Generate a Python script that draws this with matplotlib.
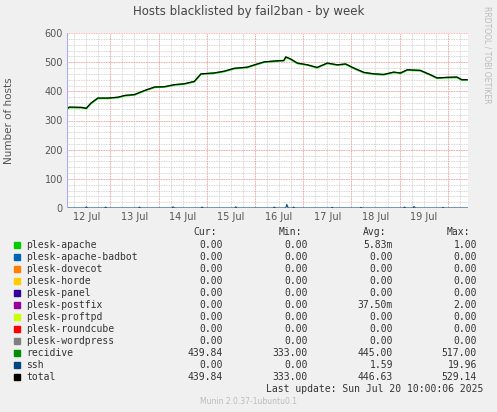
import matplotlib
matplotlib.use("Agg")
import matplotlib.pyplot as plt
import numpy as np

# x in days since 12 Jul 00:00
day_pos = [0.05,0.15,0.40,0.50,0.60,0.74,0.95,1.16,1.30,1.50,1.71,1.92,2.12,2.33,2.53,2.74,2.88,3.15,3.36,3.57,3.84,4.05,4.19,4.40,4.60,4.64,4.74,4.88,5.09,5.29,5.50,5.71,5.88,6.05,6.26,6.47,6.67,6.88,7.02,7.16,7.43,7.64,7.78,7.98,8.19,8.29,8.40]
total = [335,346,345,342,360,377,377,380,386,389,403,415,416,423,426,434,460,463,469,479,483,494,501,504,506,518,511,497,491,482,497,491,494,480,465,460,458,466,463,474,472,457,446,448,449,440,440]
ssh_pos = [0.5,0.9,1.6,2.3,2.9,3.6,4.4,4.66,4.8,5.6,6.2,7.1,7.3,7.9]
ssh_val = [4,3,3,4,3,4,3,12,3,2,2,3,5,2]

names = ["plesk-apache","plesk-apache-badbot","plesk-dovecot","plesk-horde","plesk-panel","plesk-postfix","plesk-proftpd","plesk-roundcube","plesk-wordpress","recidive","ssh","total"]
colors = ["#00CC00","#0066B3","#FF8000","#FFCC00","#330099","#990099","#CCFF00","#FF0000","#808080","#008F00","#00487D","#000000"]
cur = ["0.00"]*9+["439.84","0.00","439.84"]
mins = ["0.00"]*9+["333.00","0.00","333.00"]
avgs = ["5.83m","0.00","0.00","0.00","0.00","37.50m","0.00","0.00","0.00","445.00","1.59","446.63"]
maxs = ["1.00","0.00","0.00","0.00","0.00","2.00","0.00","0.00","0.00","517.00","19.96","529.14"]
day_labels = ["12 Jul","13 Jul","14 Jul","15 Jul","16 Jul","17 Jul","18 Jul","19 Jul"]

W,H = 497,412
fig = plt.figure(figsize=(W/100,H/100), dpi=100, facecolor="#F0F0F0")
ax = fig.add_axes([67/W, (H-208)/H, 401/W, 175/H])
ax.set_facecolor("white")
ax.set_xlim(0.1, 8.42)
ax.set_ylim(0, 600)
for d in np.arange(0.25, 8.42, 0.25):
    ax.axvline(d, color="#c8c8c8", lw=0.6, ls=(0,(1,1)), zorder=0)
for v in range(20, 600, 20):
    ax.axhline(v, color="#c8c8c8", lw=0.6, ls=(0,(1,1)), zorder=0)
for d in range(1, 9):
    ax.axvline(d, color="#ff9999", lw=0.6, ls=(0,(1,1)), zorder=0)
for v in range(100, 700, 100):
    ax.axhline(v, color="#ff9999", lw=0.6, ls=(0,(1,1)), zorder=0)

sshx = [0.1]; sshy=[0]
for p,v in zip(ssh_pos, ssh_val):
    sshx += [p-0.02,p,p+0.03]; sshy += [0,v,0]
sshx.append(8.42); sshy.append(0)
ax.plot(sshx, sshy, color="#00487D", lw=0.8)
ax.plot(day_pos, [t-1 for t in total], color="#00CC00", lw=1.3)
ax.plot(day_pos, total, color="#000000", lw=0.8)

ax.set_xticks([d+0.5 for d in range(8)])
ax.set_xticklabels(day_labels)
ax.set_yticks(range(0,700,100))
ax.tick_params(length=0, labelsize=7, colors="#555555", pad=3)
for s in ax.spines.values(): s.set_visible(False)
ax.axhline(0, color="#aaaaee", lw=0.8)
ax.axvline(0.1, color="#aaaaee", lw=0.8)
ax.set_ylabel("Number of hosts", fontsize=7.5, color="#555555", labelpad=22)

fig.text(0.5, 1-12/H, "Hosts blacklisted by fail2ban - by week", ha="center", va="center", fontsize=8.5, color="#444444")
fig.text(487/W, 1-55/H, "RRDTOOL / TOBI OETIKER", rotation=270, ha="center", va="center", fontsize=5.5, color="#bbbbbb")

mono = dict(family="DejaVu Sans Mono", fontsize=7, color="#333333", va="center")
hy = 232
fig.text(217/W, 1-hy/H, "Cur:", ha="right", **mono)
fig.text(302/W, 1-hy/H, "Min:", ha="right", **mono)
fig.text(386/W, 1-hy/H, "Avg:", ha="right", **mono)
fig.text(470/W, 1-hy/H, "Max:", ha="right", **mono)
for i,n in enumerate(names):
    y = 1-(245+12*i)/H
    fig.patches.append(plt.Rectangle((14/W, y-3/H), 6/W, 6/H, transform=fig.transFigure, color=colors[i]))
    fig.text(26/W, y, n, ha="left", **mono)
    fig.text(223/W, y, cur[i], ha="right", **mono)
    fig.text(308/W, y, mins[i], ha="right", **mono)
    fig.text(393/W, y, avgs[i], ha="right", **mono)
    fig.text(477/W, y, maxs[i], ha="right", **mono)
fig.text(483/W, 1-389/H, "Last update: Sun Jul 20 10:00:06 2025", ha="right", **mono)
fig.text(248/W, 1-401/H, "Munin 2.0.37-1ubuntu0.1", ha="center", va="center", fontsize=5.5, color="#bbbbbb")
fig.savefig("out.png", dpi=100, facecolor=fig.get_facecolor())
